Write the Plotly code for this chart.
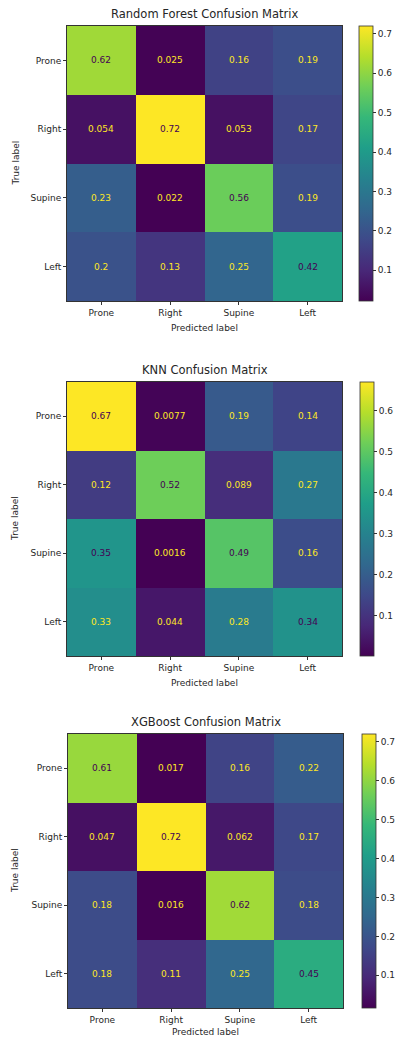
import plotly.graph_objects as go

W, H = 401, 1038

labels = ["Prone", "Right", "Supine", "Left"]

rf_values = [
    [0.62, 0.025, 0.16, 0.19],
    [0.054, 0.72, 0.053, 0.17],
    [0.23, 0.022, 0.56, 0.19],
    [0.2, 0.13, 0.25, 0.42],
]
knn_values = [
    [0.67, 0.0077, 0.19, 0.14],
    [0.12, 0.52, 0.089, 0.27],
    [0.35, 0.0016, 0.49, 0.16],
    [0.33, 0.044, 0.28, 0.34],
]
xgb_values = [
    [0.61, 0.017, 0.16, 0.22],
    [0.047, 0.72, 0.062, 0.17],
    [0.18, 0.016, 0.62, 0.18],
    [0.18, 0.11, 0.25, 0.45],
]

titles = ["Random Forest Confusion Matrix", "KNN Confusion Matrix", "XGBoost Confusion Matrix"]
matrices = [rf_values, knn_values, xgb_values]

# pixel boxes of each heatmap: (left, right, top, bottom)
boxes = [(67, 342, 26, 301), (67, 342, 382, 656), (68, 343, 734, 1008)]
cbar_left = [359, 360, 362]

FONT = "DejaVu Sans"
TXT = "#262626"
VIR_LO = "#fde725"   # viridis(1.0) used on dark cells
VIR_HI = "#440154"   # viridis(0.0) used on bright cells


def px(x):
    return x / W


def py(y):
    return 1 - y / H


fig = go.Figure()
annotations = []

for i, (title, z) in enumerate(zip(titles, matrices)):
    n = i + 1
    sfx = "" if n == 1 else str(n)
    left, right, top, bottom = boxes[i]
    flat = [v for row in z for v in row]
    zmin, zmax = min(flat), max(flat)
    thresh = (zmin + zmax) / 2.0
    cax = "coloraxis" + sfx

    fig.add_trace(go.Heatmap(
        z=z, x=labels, y=labels, coloraxis=cax,
        xaxis="x" + sfx, yaxis="y" + sfx, hoverongaps=False,
    ))

    fig.update_layout(**{
        cax: dict(
            colorscale="Viridis", cmin=zmin, cmax=zmax,
            colorbar=dict(
                x=px(cbar_left[i]), xanchor="left", xpad=0,
                y=py((top + bottom) / 2), yanchor="middle", ypad=0,
                thickness=14, thicknessmode="pixels",
                len=bottom - top, lenmode="pixels",
                outlinewidth=0.8, outlinecolor="#333333",
                ticks="outside", ticklen=3, tickwidth=0.8, tickcolor="#333333",
                tickvals=[0.1, 0.2, 0.3, 0.4, 0.5, 0.6, 0.7],
                tickformat=".1f",
                tickfont=dict(family=FONT, size=9, color=TXT),
            ),
        ),
        "xaxis" + sfx: dict(
            domain=[px(left), px(right)], anchor="y" + sfx,
            showline=True, mirror=True, linecolor="#333333", linewidth=0.8,
            ticks="outside", ticklen=3, tickcolor="#333333", tickwidth=0.8,
            tickfont=dict(family=FONT, size=9, color=TXT),
            showgrid=False, zeroline=False, fixedrange=True,
        ),
        "yaxis" + sfx: dict(
            domain=[py(bottom), py(top)], anchor="x" + sfx,
            autorange="reversed",
            showline=True, mirror=True, linecolor="#333333", linewidth=0.8,
            ticks="outside", ticklen=3, tickcolor="#333333", tickwidth=0.8,
            tickfont=dict(family=FONT, size=9, color=TXT),
            showgrid=False, zeroline=False, fixedrange=True,
        ),
    })

    # cell values
    for r, row_label in enumerate(labels):
        for c, col_label in enumerate(labels):
            v = z[r][c]
            annotations.append(dict(
                x=col_label, y=row_label, xref="x" + sfx, yref="y" + sfx,
                text="{:.2g}".format(v), showarrow=False,
                font=dict(family=FONT, size=9,
                          color=VIR_LO if v < thresh else VIR_HI),
            ))

    cx = (left + right) / 2
    # title
    annotations.append(dict(
        x=px(cx), y=py(top - 3), xref="paper", yref="paper",
        xanchor="center", yanchor="bottom", text=title, showarrow=False,
        font=dict(family=FONT, size=11.5, color=TXT),
    ))
    # x axis label, kept inside the page
    label_bottom = min(bottom + 33, H)
    annotations.append(dict(
        x=px(cx), y=py(label_bottom), xref="paper", yref="paper",
        xanchor="center", yanchor="bottom", text="Predicted label", showarrow=False,
        borderpad=0,
        font=dict(family=FONT, size=9, color=TXT),
    ))
    # y axis label
    annotations.append(dict(
        x=px(15), y=py((top + bottom) / 2), xref="paper", yref="paper",
        xanchor="center", yanchor="middle", text="True label", showarrow=False,
        textangle=-90, font=dict(family=FONT, size=9, color=TXT),
    ))

fig.update_layout(
    width=W, height=H,
    margin=dict(l=0, r=0, t=0, b=0),
    paper_bgcolor="white", plot_bgcolor="white",
    annotations=annotations,
    showlegend=False,
)

fig.write_html("out.html")
